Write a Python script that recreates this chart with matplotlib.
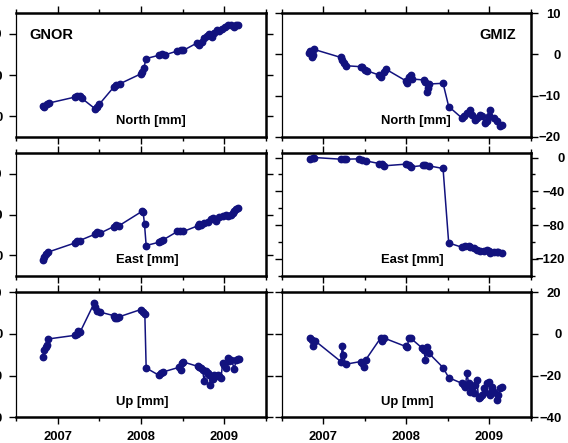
import matplotlib
matplotlib.use("Agg")
import matplotlib.pyplot as plt
from matplotlib.ticker import MultipleLocator

plt.rcParams["font.family"] = ["Liberation Sans", "DejaVu Sans"]
plt.rcParams["font.weight"] = "bold"

NAVY = "#12127e"

# ── GNOR (left column) ───────────────────────────────────────────────────────
gnor_n_t = [2006.819, 2006.839, 2006.867, 2006.899, 2007.209, 2007.237, 2007.270,
            2007.290, 2007.451, 2007.471, 2007.499, 2007.672, 2007.704, 2007.744,
            2007.994, 2008.014, 2008.034, 2008.062, 2008.215, 2008.248, 2008.284,
            2008.437, 2008.477, 2008.509, 2008.670, 2008.698, 2008.726, 2008.759,
            2008.791, 2008.819, 2008.847, 2008.879, 2008.911, 2008.940, 2008.972,
            2009.008, 2009.040, 2009.080, 2009.113, 2009.141, 2009.169]
gnor_n = [2.56, 2.24, 3.04, 3.2, 4.64, 4.96, 4.8, 4.32, 1.76, 2.24, 2.88, 7.04, 7.52,
          7.84, 10.24, 10.8, 11.76, 14.0, 14.8, 15.04, 14.88, 15.84, 16.16, 16.0,
          17.76, 17.2, 18.0, 19.04, 19.6, 20.0, 19.2, 20.24, 20.96, 20.64, 21.2,
          21.76, 22.24, 22.08, 21.6, 22.24, 22.16]

gnor_e_t = [2006.819, 2006.835, 2006.859, 2006.887, 2007.209, 2007.229, 2007.262,
            2007.451, 2007.471, 2007.503, 2007.672, 2007.704, 2007.732, 2008.014,
            2008.026, 2008.042, 2008.062, 2008.215, 2008.235, 2008.264, 2008.437,
            2008.469, 2008.509, 2008.678, 2008.698, 2008.718, 2008.759, 2008.799,
            2008.839, 2008.859, 2008.899, 2008.940, 2008.980, 2009.020, 2009.040,
            2009.080, 2009.101, 2009.121, 2009.141, 2009.161]
gnor_e = [-1.04, -0.4, 0.24, 0.8, 3.04, 3.44, 3.6, 5.2, 5.6, 5.36, 7.04, 7.44, 7.2,
          10.8, 10.56, 7.6, 2.4, 3.2, 3.6, 3.76, 5.84, 6.0, 5.84, 7.2, 7.6, 7.44,
          8.0, 8.24, 8.8, 9.04, 8.4, 9.36, 9.6, 10.0, 9.6, 10.0, 10.4, 10.8, 11.36,
          11.6]

gnor_u_t = [2006.827, 2006.839, 2006.855, 2006.867, 2006.887, 2007.209, 2007.229,
            2007.249, 2007.270, 2007.439, 2007.451, 2007.471, 2007.503, 2007.672,
            2007.692, 2007.712, 2007.732, 2007.994, 2008.026, 2008.046, 2008.062,
            2008.215, 2008.235, 2008.264, 2008.457, 2008.477, 2008.497, 2008.509,
            2008.678, 2008.698, 2008.718, 2008.738, 2008.759, 2008.779, 2008.799,
            2008.819, 2008.831, 2008.847, 2008.867, 2008.879, 2008.899, 2008.920,
            2008.940, 2008.960, 2008.980, 2009.000, 2009.020, 2009.040, 2009.060,
            2009.080, 2009.121, 2009.141, 2009.161, 2009.173]
gnor_u = [-11.2, -7.52, -6.4, -5.12, -2.4, -0.64, 0.0, 1.28, 0.96, 14.88, 12.8, 10.88,
          10.56, 8.8, 7.68, 7.68, 8.16, 11.68, 10.56, 9.6, -16.32, -19.84, -18.72,
          -18.24, -16.0, -17.12, -13.92, -13.44, -15.52, -16.0, -16.32, -17.12,
          -22.72, -17.92, -18.72, -19.52, -24.64, -20.32, -21.44, -19.52, -20.32,
          -19.52, -20.32, -21.12, -13.92, -14.72, -16.32, -11.52, -13.12, -12.32,
          -16.64, -12.32, -12.0, -11.84]

# ── GMIZ (right column) ──────────────────────────────────────────────────────
gmiz_n_t = [2006.832, 2006.844, 2006.860, 2006.872, 2006.892, 2007.212, 2007.232,
            2007.252, 2007.272, 2007.452, 2007.472, 2007.500, 2007.524, 2007.672,
            2007.692, 2007.732, 2007.752, 2007.992, 2008.012, 2008.032, 2008.052,
            2008.072, 2008.212, 2008.232, 2008.252, 2008.260, 2008.280, 2008.444,
            2008.512, 2008.672, 2008.692, 2008.732, 2008.772, 2008.792, 2008.832,
            2008.852, 2008.892, 2008.912, 2008.952, 2008.972, 2008.992, 2009.012,
            2009.052, 2009.092, 2009.132, 2009.160]
gmiz_n = [0.24, 0.81, -0.56, -0.16, 1.21, -0.73, -1.37, -2.18, -2.74, -2.98, -3.15,
          -3.79, -3.95, -5.0, -5.56, -4.19, -3.55, -6.37, -7.02, -5.4, -5.0, -5.97,
          -6.21, -6.61, -9.03, -8.23, -7.18, -7.02, -12.66, -15.48, -15.08, -14.27,
          -13.47, -14.68, -15.89, -15.48, -14.68, -15.08, -16.69, -16.29, -15.08,
          -13.47, -15.48, -16.29, -17.5, -17.1]

gmiz_e_t = [2006.844, 2006.872, 2006.892, 2007.212, 2007.252, 2007.272, 2007.432,
            2007.472, 2007.512, 2007.672, 2007.712, 2007.732, 2007.992, 2008.032,
            2008.060, 2008.204, 2008.232, 2008.272, 2008.444, 2008.512, 2008.672,
            2008.712, 2008.752, 2008.772, 2008.812, 2008.852, 2008.892, 2008.932,
            2008.972, 2008.992, 2009.012, 2009.052, 2009.092, 2009.112, 2009.152]
gmiz_e = [-1.97, -0.79, 0.0, -1.97, -1.57, -1.97, -1.57, -2.76, -3.94, -7.09, -7.87,
          -9.84, -7.87, -8.66, -11.02, -9.45, -9.06, -9.84, -12.99, -101.2, -106.3,
          -104.3, -104.3, -106.3, -107.1, -109.4, -110.2, -110.2, -109.4, -111.0,
          -113.0, -112.2, -111.4, -112.2, -113.0]

gmiz_u_t = [2006.844, 2006.864, 2006.880, 2006.900, 2007.212, 2007.232, 2007.244,
            2007.272, 2007.452, 2007.472, 2007.492, 2007.512, 2007.692, 2007.712,
            2007.732, 2007.992, 2008.012, 2008.032, 2008.052, 2008.192, 2008.212,
            2008.232, 2008.252, 2008.272, 2008.444, 2008.512, 2008.672, 2008.692,
            2008.712, 2008.732, 2008.752, 2008.772, 2008.792, 2008.812, 2008.832,
            2008.852, 2008.872, 2008.892, 2008.912, 2008.932, 2008.952, 2008.972,
            2008.992, 2009.012, 2009.032, 2009.052, 2009.092, 2009.112, 2009.132,
            2009.152]
gmiz_u = [-1.94, -2.74, -5.97, -3.23, -13.23, -5.65, -10.32, -14.52, -13.23, -14.03,
          -15.65, -12.42, -1.94, -3.55, -1.94, -5.97, -6.45, -1.94, -1.94, -6.77,
          -7.58, -12.42, -6.45, -9.19, -16.13, -20.97, -23.71, -24.52, -25.32,
          -18.87, -23.71, -27.74, -26.13, -28.55, -24.52, -22.1, -30.97, -30.16,
          -29.35, -26.13, -27.74, -23.71, -22.9, -29.35, -25.32, -27.74, -31.77,
          -29.35, -26.13, -25.32]

year_ticks = [2007, 2008, 2009]
year_labels = ["2007", "2008", "2009"]
components = ["North [mm]", "East [mm]", "Up [mm]"]

# panel frames in figure pixels: (left, top, width, height)
W, H = 568, 443
col_x = [(16, 250), (281.7, 249)]
row_y = [(13.3, 123.4), (153.3, 122.4), (292.3, 125.0)]


def panel(fig, r, c):
    x0, w = col_x[c]
    y0, h = row_y[r]
    return fig.add_axes([x0 / W, (H - y0 - h) / H, w / W, h / H])


def style(ax, ylim, ystep, right, bottom_row, yminor=None, label_pad=4.8):
    ax.set_xlim(2006.5, 2009.5)
    ax.set_ylim(*ylim)
    ax.xaxis.set_major_locator(MultipleLocator(1.0))
    ax.xaxis.set_minor_locator(MultipleLocator(0.5))
    ax.yaxis.set_major_locator(MultipleLocator(ystep))
    if yminor:
        ax.yaxis.set_minor_locator(MultipleLocator(yminor))
    ax.set_xticks(year_ticks)
    ax.set_xticklabels(year_labels if bottom_row else [])
    ax.tick_params(axis="x", which="both", direction="out", top=True, bottom=True,
                   labelbottom=bottom_row, labelsize=9.4, pad=5, width=1.0, color="black")
    ax.tick_params(axis="x", which="major", length=5.2)
    ax.tick_params(axis="x", which="minor", length=3.0)
    ax.tick_params(axis="y", which="both", direction="out", left=True, right=True,
                   labelleft=not right, labelright=right, labelsize=9.4,
                   pad=label_pad, width=1.0)
    ax.tick_params(axis="y", which="major", length=5.0)
    ax.tick_params(axis="y", which="minor", length=3.0)
    if right:
        for lab in ax.get_yticklabels():
            lab.set_horizontalalignment("right")
    for side, sp in ax.spines.items():
        sp.set_linewidth(0.9 if side == "left" else 1.8)


fig = plt.figure(figsize=(W / 100, H / 100), dpi=100)

series = [
    [(gnor_n_t, gnor_n), (gmiz_n_t, gmiz_n)],
    [(gnor_e_t, gnor_e), (gmiz_e_t, gmiz_e)],
    [(gnor_u_t, gnor_u), (gmiz_u_t, gmiz_u)],
]
limits = [
    [((-5, 25), 10, None), ((-20, 10), 10, None)],
    [((-5, 25), 10, None), ((-140, 5), 40, 20)],
    [((-40, 20), 20, None), ((-40, 20), 20, None)],
]
right_pads = [16.5, 19.5, 17.0]

for r in range(3):
    for c in range(2):
        ax = panel(fig, r, c)
        t, v = series[r][c]
        ax.plot(t, v, "-o", color=NAVY, lw=1.1, ms=4.6, mec=NAVY, mfc=NAVY)
        ylim, ystep, yminor = limits[r][c]
        style(ax, ylim, ystep, right=(c == 1), bottom_row=(r == 2), yminor=yminor,
              label_pad=right_pads[r] if c == 1 else 4.8)
        ax.text(0.4, 0.1, components[r], transform=ax.transAxes, ha="left",
                va="baseline", fontsize=9.4, fontweight="bold")

fig.axes[0].text(0.053, 0.79, "GNOR", transform=fig.axes[0].transAxes, ha="left",
                 va="baseline", fontsize=10.5, fontweight="bold")
fig.axes[1].text(0.941, 0.79, "GMIZ", transform=fig.axes[1].transAxes, ha="right",
                 va="baseline", fontsize=10.5, fontweight="bold")

fig.savefig("out.png", dpi=100)
